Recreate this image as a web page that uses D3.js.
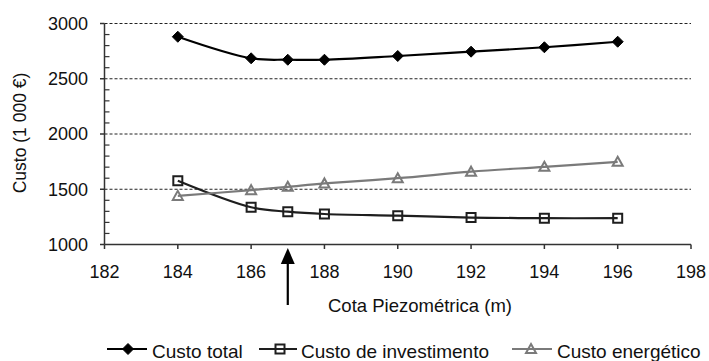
<!DOCTYPE html>
<html>
<head>
<meta charset="utf-8">
<script src="https://cdn.jsdelivr.net/npm/d3@7"></script>
<style>
  html, body { margin: 0; padding: 0; background: #fff; }
  svg { display: block; font-family: "Liberation Sans", Arial, sans-serif; }
</style>
</head>
<body>
<svg id="chart" width="709" height="361"></svg>
<script>
// Piezometric head (m) at which each cost was evaluated
const cota = [184, 186, 187, 188, 190, 192, 194, 196];
// Costs in thousands of euros
const custoTotal = [2880, 2685, 2672, 2672, 2706, 2745, 2785, 2835];
const custoInvestimento = [1577, 1337, 1297, 1276, 1261, 1244, 1238, 1238];
const custoEnergetico = [1440, 1492, 1522, 1553, 1600, 1659, 1703, 1748];
// Axis ticks
const xTicks = [182, 184, 186, 188, 190, 192, 194, 196, 198];
const yTicks = [1000, 1500, 2000, 2500, 3000];
// Optimal head, marked with an arrow
const cotaOtima = 187;

const seriesNames = ["Custo total", "Custo de investimento", "Custo energético"];
const seriesValues = [custoTotal, custoInvestimento, custoEnergetico];
const seriesStyle = [
  { color: "#000", marker: "diamond" },
  { color: "#1e1e1e", marker: "square" },
  { color: "#7a7a7a", marker: "triangle" }
];

const svg = d3.select("#chart");
const x = d3.scaleLinear().domain([182, 198]).range([104.5, 691]);
const y = d3.scaleLinear().domain([1000, 3000]).range([244.5, 23.5]);

// Horizontal dashed gridlines
svg.append("g").selectAll("line")
  .data(yTicks.filter(v => v > 1000))
  .join("line")
  .attr("x1", x(182)).attr("x2", x(198))
  .attr("y1", d => y(d)).attr("y2", d => y(d))
  .attr("stroke", "#222").attr("stroke-width", 1)
  .attr("stroke-dasharray", "3,2");

// Y axis: line, outer major ticks, inner minor ticks, labels
const yAxis = svg.append("g");
yAxis.append("line")
  .attr("x1", x(182)).attr("x2", x(182))
  .attr("y1", y(3000)).attr("y2", y(1000))
  .attr("stroke", "#333").attr("stroke-width", 1.5);
yAxis.selectAll(".major").data(yTicks).join("line")
  .attr("x1", x(182) - 4.5).attr("x2", x(182))
  .attr("y1", d => y(d)).attr("y2", d => y(d))
  .attr("stroke", "#333").attr("stroke-width", 1.5);
yAxis.selectAll(".minor").data(d3.range(1100, 3000, 100).filter(v => v % 500 !== 0)).join("line")
  .attr("x1", x(182)).attr("x2", x(182) + 5)
  .attr("y1", d => y(d)).attr("y2", d => y(d))
  .attr("stroke", "#333").attr("stroke-width", 1.2);
yAxis.selectAll("text").data(yTicks).join("text")
  .attr("x", 88).attr("y", d => y(d))
  .attr("dy", "0.35em")
  .attr("text-anchor", "end")
  .attr("font-size", 18)
  .attr("fill", "#111")
  .text(d => d);

// X axis: line, ticks below, labels
const xAxis = svg.append("g");
xAxis.append("line")
  .attr("x1", x(182)).attr("x2", x(198))
  .attr("y1", y(1000)).attr("y2", y(1000))
  .attr("stroke", "#333").attr("stroke-width", 1.5);
xAxis.selectAll("line.tick").data(xTicks).join("line")
  .attr("class", "tick")
  .attr("x1", d => x(d)).attr("x2", d => x(d))
  .attr("y1", y(1000)).attr("y2", y(1000) + 4.5)
  .attr("stroke", "#333").attr("stroke-width", 1.5);
xAxis.selectAll("text").data(xTicks).join("text")
  .attr("x", d => x(d)).attr("y", 278)
  .attr("text-anchor", "middle")
  .attr("font-size", 18)
  .attr("fill", "#111")
  .text(d => d);

// Axis titles
svg.append("text")
  .attr("x", 420).attr("y", 312)
  .attr("text-anchor", "middle")
  .attr("font-size", 18.5)
  .attr("fill", "#111")
  .text("Cota Piezométrica (m)");
svg.append("text")
  .attr("transform", "translate(26,133) rotate(-90)")
  .attr("text-anchor", "middle")
  .attr("font-size", 17.5)
  .attr("fill", "#111")
  .text("Custo (1 000 €)");

// Marker shapes centred on (0,0)
function markerPath(kind) {
  if (kind === "diamond") return "M0,-5.5L5.5,0L0,5.5L-5.5,0Z";
  if (kind === "square") return "M-4.5,-4.5H4.5V4.5H-4.5Z";
  return "M0,-5L5,4H-5Z";
}
function drawMarker(g, kind, color) {
  const p = g.append("path").attr("d", markerPath(kind));
  if (kind === "diamond") p.attr("fill", color).attr("stroke", color).attr("stroke-width", 1);
  else p.attr("fill", "none").attr("stroke", color).attr("stroke-width", 2);
}

// Smoothed series lines with markers
const line = d3.line()
  .x(d => x(d[0])).y(d => y(d[1]))
  .curve(d3.curveCatmullRom.alpha(0.5));

seriesValues.forEach((vals, i) => {
  const pts = cota.map((c, j) => [c, vals[j]]);
  const st = seriesStyle[i];
  svg.append("path")
    .datum(pts)
    .attr("d", line)
    .attr("fill", "none")
    .attr("stroke", st.color)
    .attr("stroke-width", 2.2);
  pts.forEach(p => {
    const g = svg.append("g").attr("transform", `translate(${x(p[0])},${y(p[1])})`);
    drawMarker(g, st.marker, st.color);
  });
});

// Arrow pointing at the optimal head
const ax = x(cotaOtima);
svg.append("line")
  .attr("x1", ax).attr("x2", ax)
  .attr("y1", 305).attr("y2", 262)
  .attr("stroke", "#000").attr("stroke-width", 2.2);
svg.append("path")
  .attr("d", `M${ax},248L${ax + 7},264L${ax - 7},264Z`)
  .attr("fill", "#000");

// Legend
const legendItems = [
  { x1: 107, x2: 147, mx: 128, tx: 152 },
  { x1: 259, x2: 297, mx: 280, tx: 301 },
  { x1: 512, x2: 552, mx: 531, tx: 557 }
];
const legendY = 349;
legendItems.forEach((it, i) => {
  const st = seriesStyle[i];
  svg.append("line")
    .attr("x1", it.x1).attr("x2", it.x2)
    .attr("y1", legendY).attr("y2", legendY)
    .attr("stroke", st.color).attr("stroke-width", 2.2);
  const g = svg.append("g").attr("transform", `translate(${it.mx},${legendY})`);
  drawMarker(g, st.marker, st.color);
  svg.append("text")
    .attr("x", it.tx).attr("y", 358)
    .attr("font-size", 19)
    .attr("fill", "#111")
    .text(seriesNames[i]);
});
</script>
</body>
</html>
